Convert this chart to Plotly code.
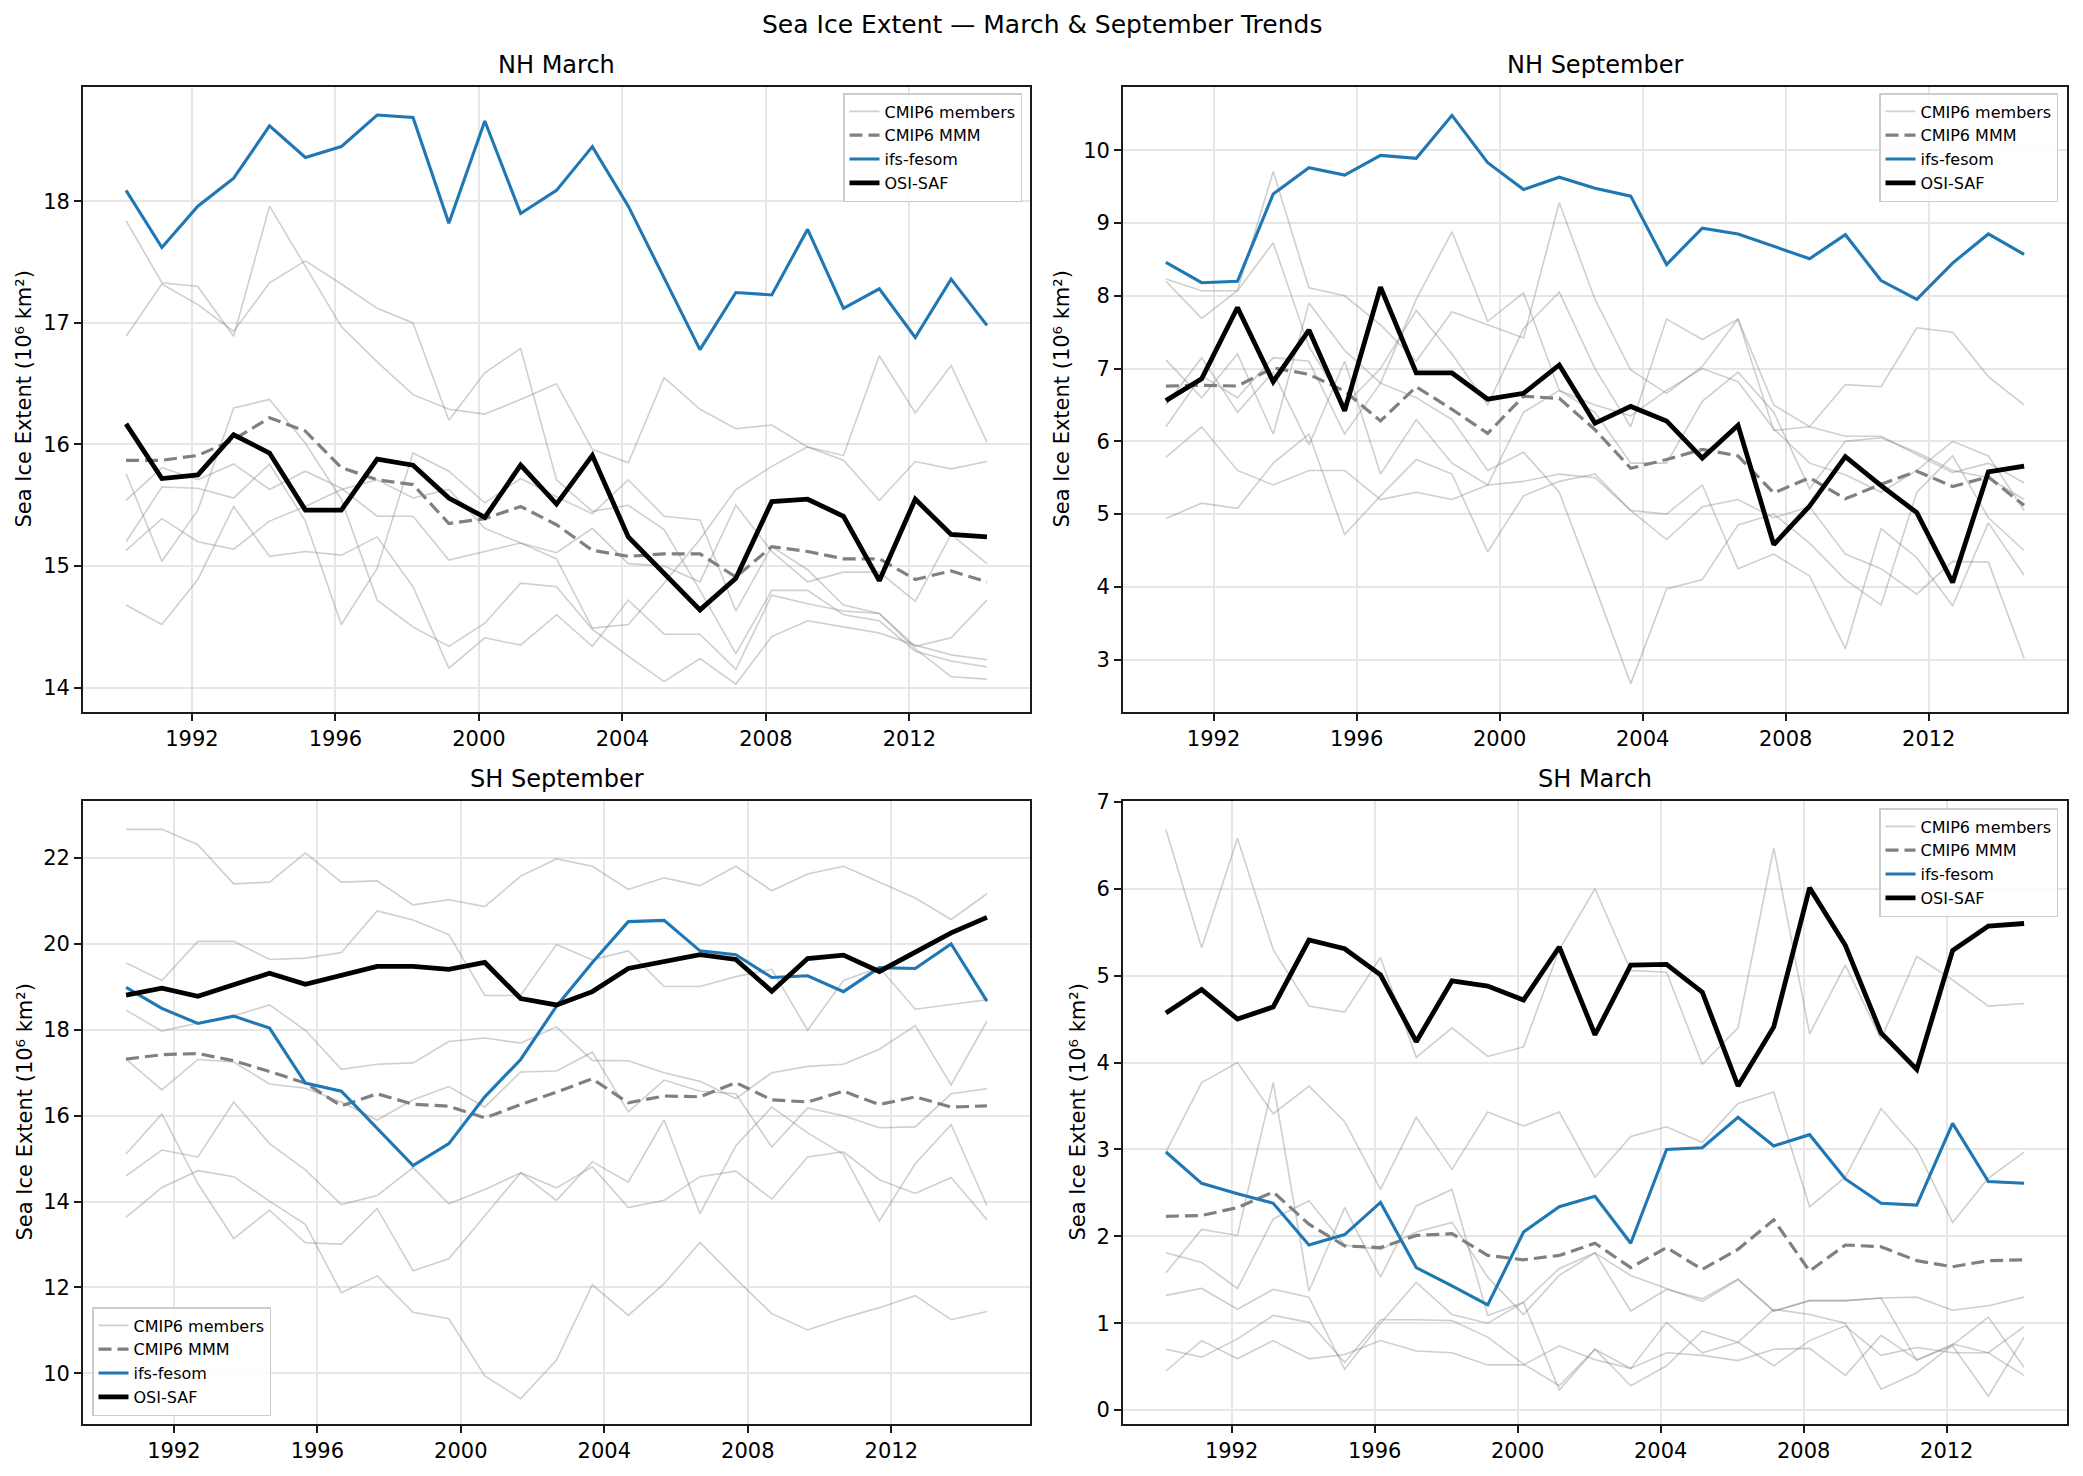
import pandas as pd
import plotly.graph_objects as go

years = list(range(1990, 2015))
tick_years = [1992, 1996, 2000, 2004, 2008, 2012]

# ---------------- NH March ----------------
nhm_ifs = [18.09,17.62,17.96,18.19,18.62,18.36,18.45,18.71,18.69,17.82,18.66,17.90,18.09,18.45,17.96,17.37,16.78,17.25,17.23,17.77,17.12,17.28,16.88,17.36,16.98]
nhm_osi = [16.17,15.72,15.75,16.08,15.93,15.46,15.46,15.88,15.83,15.56,15.40,15.83,15.51,15.91,15.24,14.94,14.64,14.90,15.53,15.55,15.41,14.88,15.55,15.26,15.24]
nhm_mmm = [15.87,15.87,15.91,16.04,16.22,16.11,15.81,15.71,15.67,15.35,15.39,15.49,15.34,15.13,15.08,15.10,15.10,14.91,15.16,15.12,15.06,15.06,14.89,14.96,14.87]
nhm_m1 = [17.84,17.33,17.30,16.89,17.96,17.47,16.97,16.68,16.41,16.29,16.25,16.37,16.50,15.96,15.85,16.55,16.29,16.13,16.16,15.98,15.91,16.73,16.26,16.65,16.02]
nhm_m2 = [16.89,17.32,17.15,16.93,17.33,17.51,17.32,17.12,17.00,16.20,16.59,16.79,15.71,15.45,15.50,15.30,14.80,14.28,14.80,14.80,14.60,14.55,14.30,14.22,14.17]
nhm_m3 = [15.13,15.39,15.20,15.14,15.37,15.49,15.63,15.71,15.56,15.63,15.31,15.19,15.06,14.49,14.52,14.86,15.22,15.63,15.82,15.98,15.87,15.54,15.86,15.80,15.86]
nhm_m4 = [14.68,14.52,14.89,15.49,15.08,15.12,15.09,15.24,14.83,14.16,14.41,14.35,14.60,14.34,14.72,14.44,14.44,14.15,14.76,14.69,14.63,14.61,14.32,14.09,14.07]
nhm_m5 = [15.20,15.65,15.64,15.56,15.84,15.37,14.52,14.98,15.93,15.78,15.52,15.72,15.57,15.43,15.71,15.41,15.38,14.63,15.16,14.97,14.68,14.61,14.34,14.41,14.72]
nhm_m6 = [15.54,15.81,15.71,15.84,15.63,15.78,15.64,15.41,15.41,15.05,15.12,15.19,15.11,15.31,15.02,15.00,14.87,15.50,15.12,14.87,14.95,14.95,14.71,15.26,15.02]
nhm_m7 = [15.76,15.04,15.46,16.30,16.37,16.01,15.55,14.72,14.50,14.34,14.53,14.86,14.83,14.48,14.26,14.05,14.24,14.03,14.42,14.55,14.50,14.45,14.35,14.27,14.23]

# ---------------- NH September ----------------
nhs_ifs = [8.46,8.18,8.20,9.40,9.76,9.66,9.93,9.89,10.48,9.83,9.46,9.63,9.48,9.37,8.43,8.93,8.85,8.68,8.51,8.84,8.21,7.95,8.45,8.85,8.57]
nhs_osi = [6.56,6.86,7.84,6.82,7.53,6.42,8.12,6.94,6.94,6.58,6.66,7.05,6.25,6.48,6.28,5.77,6.22,4.58,5.11,5.79,5.39,5.02,4.06,5.58,5.66]
nhs_mmm = [6.76,6.77,6.76,7.01,6.92,6.69,6.28,6.75,6.44,6.11,6.62,6.59,6.16,5.63,5.75,5.89,5.80,5.29,5.50,5.21,5.41,5.59,5.38,5.51,5.12]
nhs_m1 = [8.23,8.07,8.07,9.71,8.11,8.00,7.60,7.10,7.78,7.60,7.42,9.28,7.95,6.98,6.66,7.03,7.68,6.15,6.20,6.07,6.07,5.82,5.57,5.70,5.43]
nhs_m2 = [7.12,6.60,7.20,6.10,7.90,7.25,6.80,7.95,8.88,7.65,8.04,6.70,6.50,6.35,6.70,7.00,6.82,6.17,5.70,5.54,5.30,5.60,6.00,5.80,5.05]
nhs_m3 = [6.20,6.90,6.60,7.15,7.10,6.10,6.80,6.60,6.30,5.60,5.85,5.30,4.00,2.67,3.97,4.10,4.85,5.00,4.60,4.10,3.75,5.30,5.80,4.95,4.50]
nhs_m4 = [5.78,6.20,5.60,5.40,5.60,5.60,5.20,5.30,5.20,5.40,5.45,5.55,5.50,5.05,5.00,5.40,4.25,4.45,4.15,3.15,4.80,4.40,3.74,4.88,4.16]
nhs_m5 = [4.94,5.15,5.08,5.70,6.10,4.72,5.25,5.75,5.55,4.48,5.25,5.45,5.55,5.05,4.65,5.10,5.20,4.95,5.10,4.45,4.25,3.90,4.35,4.34,3.02]
nhs_m6 = [6.50,7.15,6.40,6.95,5.95,7.10,5.55,6.30,5.70,5.40,6.40,6.70,6.40,5.70,5.70,6.55,6.95,6.40,5.35,6.00,6.05,5.85,5.60,5.50,5.20]
nhs_m7 = [8.20,7.69,8.07,8.73,7.30,6.50,7.00,7.80,7.20,6.50,7.55,8.05,7.00,6.20,7.68,7.40,7.68,6.50,6.20,6.78,6.75,7.56,7.50,6.89,6.50]

# ---------------- SH September ----------------
shs_ifs = [18.99,18.50,18.15,18.32,18.04,16.76,16.57,15.70,14.84,15.35,16.44,17.31,18.55,19.57,20.52,20.55,19.84,19.75,19.22,19.26,18.89,19.45,19.43,20.00,18.67]
shs_osi = [18.81,18.97,18.78,19.06,19.32,19.06,19.27,19.48,19.48,19.41,19.57,18.73,18.58,18.89,19.43,19.59,19.75,19.64,18.90,19.66,19.74,19.36,19.82,20.26,20.62]
shs_mmm = [17.32,17.42,17.45,17.28,17.03,16.76,16.23,16.51,16.27,16.22,15.95,16.26,16.55,16.86,16.30,16.46,16.44,16.77,16.37,16.32,16.57,16.26,16.44,16.20,16.23]
shs_m1 = [22.67,22.67,22.31,21.40,21.44,22.12,21.44,21.47,20.91,21.03,20.87,21.58,21.98,21.81,21.27,21.54,21.36,21.81,21.24,21.63,21.81,21.44,21.07,20.57,21.17]
shs_m2 = [19.56,19.15,20.06,20.06,19.64,19.67,19.80,20.77,20.56,20.22,18.80,18.80,19.99,19.63,19.84,19.01,19.01,19.24,19.41,17.99,19.15,19.45,18.48,18.59,18.70]
shs_m3 = [18.46,17.97,18.16,18.33,18.58,17.99,17.08,17.20,17.23,17.73,17.81,17.69,18.07,17.29,17.28,17.00,16.80,16.40,17.00,17.15,17.20,17.55,18.10,16.72,18.20]
shs_m4 = [17.32,16.60,17.31,17.25,16.74,16.64,16.32,15.90,16.37,16.68,16.20,17.02,17.04,17.48,16.09,16.83,16.57,16.51,15.27,16.18,16.00,15.72,15.74,16.51,16.63]
shs_m5 = [15.11,16.04,14.42,13.14,13.80,13.04,13.01,13.84,12.39,12.67,13.67,14.67,14.32,14.81,13.86,14.03,14.58,14.71,14.06,15.04,15.16,14.51,14.19,14.56,13.58]
shs_m6 = [14.60,15.20,15.04,16.32,15.35,14.74,13.93,14.14,14.79,13.95,14.28,14.67,14.03,14.93,14.45,15.90,13.72,15.30,16.20,15.60,15.10,13.55,14.88,15.79,13.91]
shs_m7 = [13.63,14.33,14.72,14.58,14.01,13.47,11.88,12.27,11.42,11.27,9.94,9.41,10.31,12.06,11.35,12.09,13.05,12.20,11.39,11.01,11.29,11.53,11.81,11.25,11.44]

# ---------------- SH March ----------------
shm_ifs = [2.97,2.61,2.49,2.38,1.90,2.02,2.39,1.64,1.43,1.21,2.05,2.34,2.46,1.92,3.00,3.02,3.37,3.04,3.17,2.66,2.38,2.36,3.30,2.63,2.61]
shm_osi = [4.57,4.84,4.50,4.64,5.41,5.31,5.01,4.24,4.94,4.88,4.72,5.33,4.32,5.12,5.13,4.81,3.73,4.41,6.01,5.35,4.34,3.92,5.29,5.57,5.60]
shm_mmm = [2.23,2.24,2.33,2.51,2.14,1.89,1.87,2.01,2.03,1.78,1.73,1.78,1.92,1.64,1.87,1.62,1.85,2.19,1.60,1.90,1.88,1.72,1.65,1.72,1.73]
shm_m1 = [6.68,5.32,6.58,5.30,4.65,4.58,5.21,4.06,4.40,4.07,4.18,5.30,6.00,5.06,5.04,3.98,4.40,6.47,4.33,5.12,4.27,5.22,4.95,4.65,4.68]
shm_m2 = [2.97,3.77,4.00,3.41,3.73,3.32,2.54,3.37,2.77,3.43,3.27,3.43,2.68,3.15,3.26,3.08,3.53,3.66,2.34,2.68,3.47,3.00,2.16,2.67,2.97]
shm_m3 = [1.58,2.08,2.01,3.77,1.37,2.33,1.53,2.35,2.54,1.09,1.24,1.63,1.81,1.14,1.39,1.28,1.51,1.14,1.26,1.26,1.29,0.57,0.76,0.66,0.96]
shm_m4 = [1.81,1.70,1.40,2.20,2.41,1.90,1.85,2.05,2.16,1.53,1.10,1.55,1.81,1.55,1.40,1.25,1.50,1.14,1.26,1.26,1.29,1.30,1.15,1.20,1.30]
shm_m5 = [0.70,0.61,0.82,1.09,1.01,0.55,1.04,1.04,1.03,0.84,0.53,0.28,0.70,0.48,1.01,0.66,0.78,0.51,0.80,0.97,0.63,0.72,0.66,0.66,0.40]
shm_m6 = [0.45,0.80,0.59,0.80,0.59,0.64,0.80,0.68,0.66,0.52,0.52,0.74,0.58,0.48,0.66,0.63,0.57,0.70,0.71,0.40,0.86,0.58,0.74,0.16,0.84]
shm_m7 = [1.32,1.40,1.16,1.39,1.30,0.47,1.00,1.47,1.10,1.00,1.24,0.23,0.70,0.28,0.51,0.91,0.78,1.16,1.10,1.00,0.24,0.43,0.75,1.07,0.49]

W, H = 2083, 1476
FONT = "DejaVu Sans"

panels = [
    dict(title="NH March", month="03", ax="", leg="legend",
         members=[nhm_m1, nhm_m2, nhm_m3, nhm_m4, nhm_m5, nhm_m6, nhm_m7],
         mmm=nhm_mmm, ifs=nhm_ifs, osi=nhm_osi,
         px=(83, 1030), py=(87, 712), yr=[13.80, 18.94], yt=[14, 15, 16, 17, 18],
         legpos=dict(x=1022, y=93, xanchor="right", yanchor="top"), ylabx=24),
    dict(title="NH September", month="09", ax="2", leg="legend2",
         members=[nhs_m1, nhs_m2, nhs_m3, nhs_m4, nhs_m5, nhs_m6, nhs_m7],
         mmm=nhs_mmm, ifs=nhs_ifs, osi=nhs_osi,
         px=(1123, 2067), py=(87, 712), yr=[2.28, 10.87], yt=[3, 4, 5, 6, 7, 8, 9, 10],
         legpos=dict(x=2058, y=93, xanchor="right", yanchor="top"), ylabx=1062),
    dict(title="SH September", month="09", ax="3", leg="legend3",
         members=[shs_m1, shs_m2, shs_m3, shs_m4, shs_m5, shs_m6, shs_m7],
         mmm=shs_mmm, ifs=shs_ifs, osi=shs_osi,
         px=(83, 1030), py=(801, 1424), yr=[8.82, 23.33], yt=[10, 12, 14, 16, 18, 20, 22],
         legpos=dict(x=92, y=1416, xanchor="left", yanchor="bottom"), ylabx=24),
    dict(title="SH March", month="03", ax="4", leg="legend4",
         members=[shm_m1, shm_m2, shm_m3, shm_m4, shm_m5, shm_m6, shm_m7],
         mmm=shm_mmm, ifs=shm_ifs, osi=shm_osi,
         px=(1123, 2067), py=(801, 1424), yr=[-0.16, 7.01], yt=[0, 1, 2, 3, 4, 5, 6, 7],
         legpos=dict(x=2058, y=808, xanchor="right", yanchor="top"), ylabx=1077),
]

fig = go.Figure()
layout = dict(width=W, height=H, margin=dict(l=0, r=0, t=0, b=0),
              paper_bgcolor="white", plot_bgcolor="white",
              font=dict(family=FONT, color="black", size=21),
              annotations=[], showlegend=True)

for p in panels:
    dates = pd.to_datetime([f"{y}-{p['month']}-01" for y in years])
    xa = "x" + p["ax"]
    ya = "y" + p["ax"]
    for k, m in enumerate(p["members"]):
        fig.add_trace(go.Scatter(x=dates, y=m, mode="lines", xaxis=xa, yaxis=ya,
                                 line=dict(color="rgba(128,128,128,0.38)", width=1.6),
                                 name="CMIP6 members", legend=p["leg"],
                                 showlegend=(k == 0), hoverinfo="skip"))
    fig.add_trace(go.Scatter(x=dates, y=p["mmm"], mode="lines", xaxis=xa, yaxis=ya,
                             line=dict(color="#808080", width=3.2, dash="13px,6px"),
                             name="CMIP6 MMM", legend=p["leg"]))
    fig.add_trace(go.Scatter(x=dates, y=p["ifs"], mode="lines", xaxis=xa, yaxis=ya,
                             line=dict(color="#1f77b4", width=3.1),
                             name="ifs-fesom", legend=p["leg"]))
    fig.add_trace(go.Scatter(x=dates, y=p["osi"], mode="lines", xaxis=xa, yaxis=ya,
                             line=dict(color="black", width=4.8),
                             name="OSI-SAF", legend=p["leg"]))

    span = dates[-1] - dates[0]
    xr = [dates[0] - 0.05 * span, dates[-1] + 0.05 * span]
    xd = [p["px"][0] / W, p["px"][1] / W]
    yd = [1 - p["py"][1] / H, 1 - p["py"][0] / H]
    axis_common = dict(showline=True, linecolor="#1a1a1a", linewidth=1.7, mirror=True,
                       ticks="outside", ticklen=7, tickwidth=1.7, tickcolor="#1a1a1a",
                       showgrid=True, gridcolor="#e6e6e6", gridwidth=1.6,
                       zeroline=False, automargin=False,
                       tickfont=dict(family=FONT, size=21, color="black"))
    layout["xaxis" + p["ax"]] = dict(axis_common, domain=xd, anchor=ya, type="date",
                                     range=xr,
                                     tickvals=[f"{t}-01-01" for t in tick_years],
                                     ticktext=[str(t) for t in tick_years])
    layout["yaxis" + p["ax"]] = dict(axis_common, domain=yd, anchor=xa, range=p["yr"],
                                     tickvals=p["yt"], ticktext=[str(t) for t in p["yt"]])
    lp = p["legpos"]
    layout[p["leg"]] = dict(x=lp["x"] / W, y=1 - lp["y"] / H, xanchor=lp["xanchor"],
                            yanchor=lp["yanchor"], bgcolor="rgba(255,255,255,0.85)",
                            bordercolor="#cccccc", borderwidth=1.5,
                            font=dict(family=FONT, size=16, color="black"),
                            itemwidth=30, tracegroupgap=0)
    layout["annotations"].append(dict(text=p["title"], xref="paper", yref="paper",
                                      x=(xd[0] + xd[1]) / 2, y=yd[1], xanchor="center",
                                      yanchor="bottom", yshift=6, showarrow=False,
                                      font=dict(family=FONT, size=24, color="black")))
    layout["annotations"].append(dict(text="Sea Ice Extent (10⁶ km²)", xref="paper",
                                      yref="paper", x=p["ylabx"] / W,
                                      y=(yd[0] + yd[1]) / 2, xanchor="center",
                                      yanchor="middle", textangle=-90, showarrow=False,
                                      font=dict(family=FONT, size=21, color="black")))

layout["annotations"].append(dict(text="Sea Ice Extent — March & September Trends",
                                  xref="paper", yref="paper", x=0.5, y=1 - 25 / H,
                                  xanchor="center", yanchor="middle", showarrow=False,
                                  font=dict(family=FONT, size=25, color="black")))

fig.update_layout(**layout)
fig.write_html("out.html", config={"displayModeBar": False},
               post_script="document.body.style.margin='0';document.body.style.padding='0';")
